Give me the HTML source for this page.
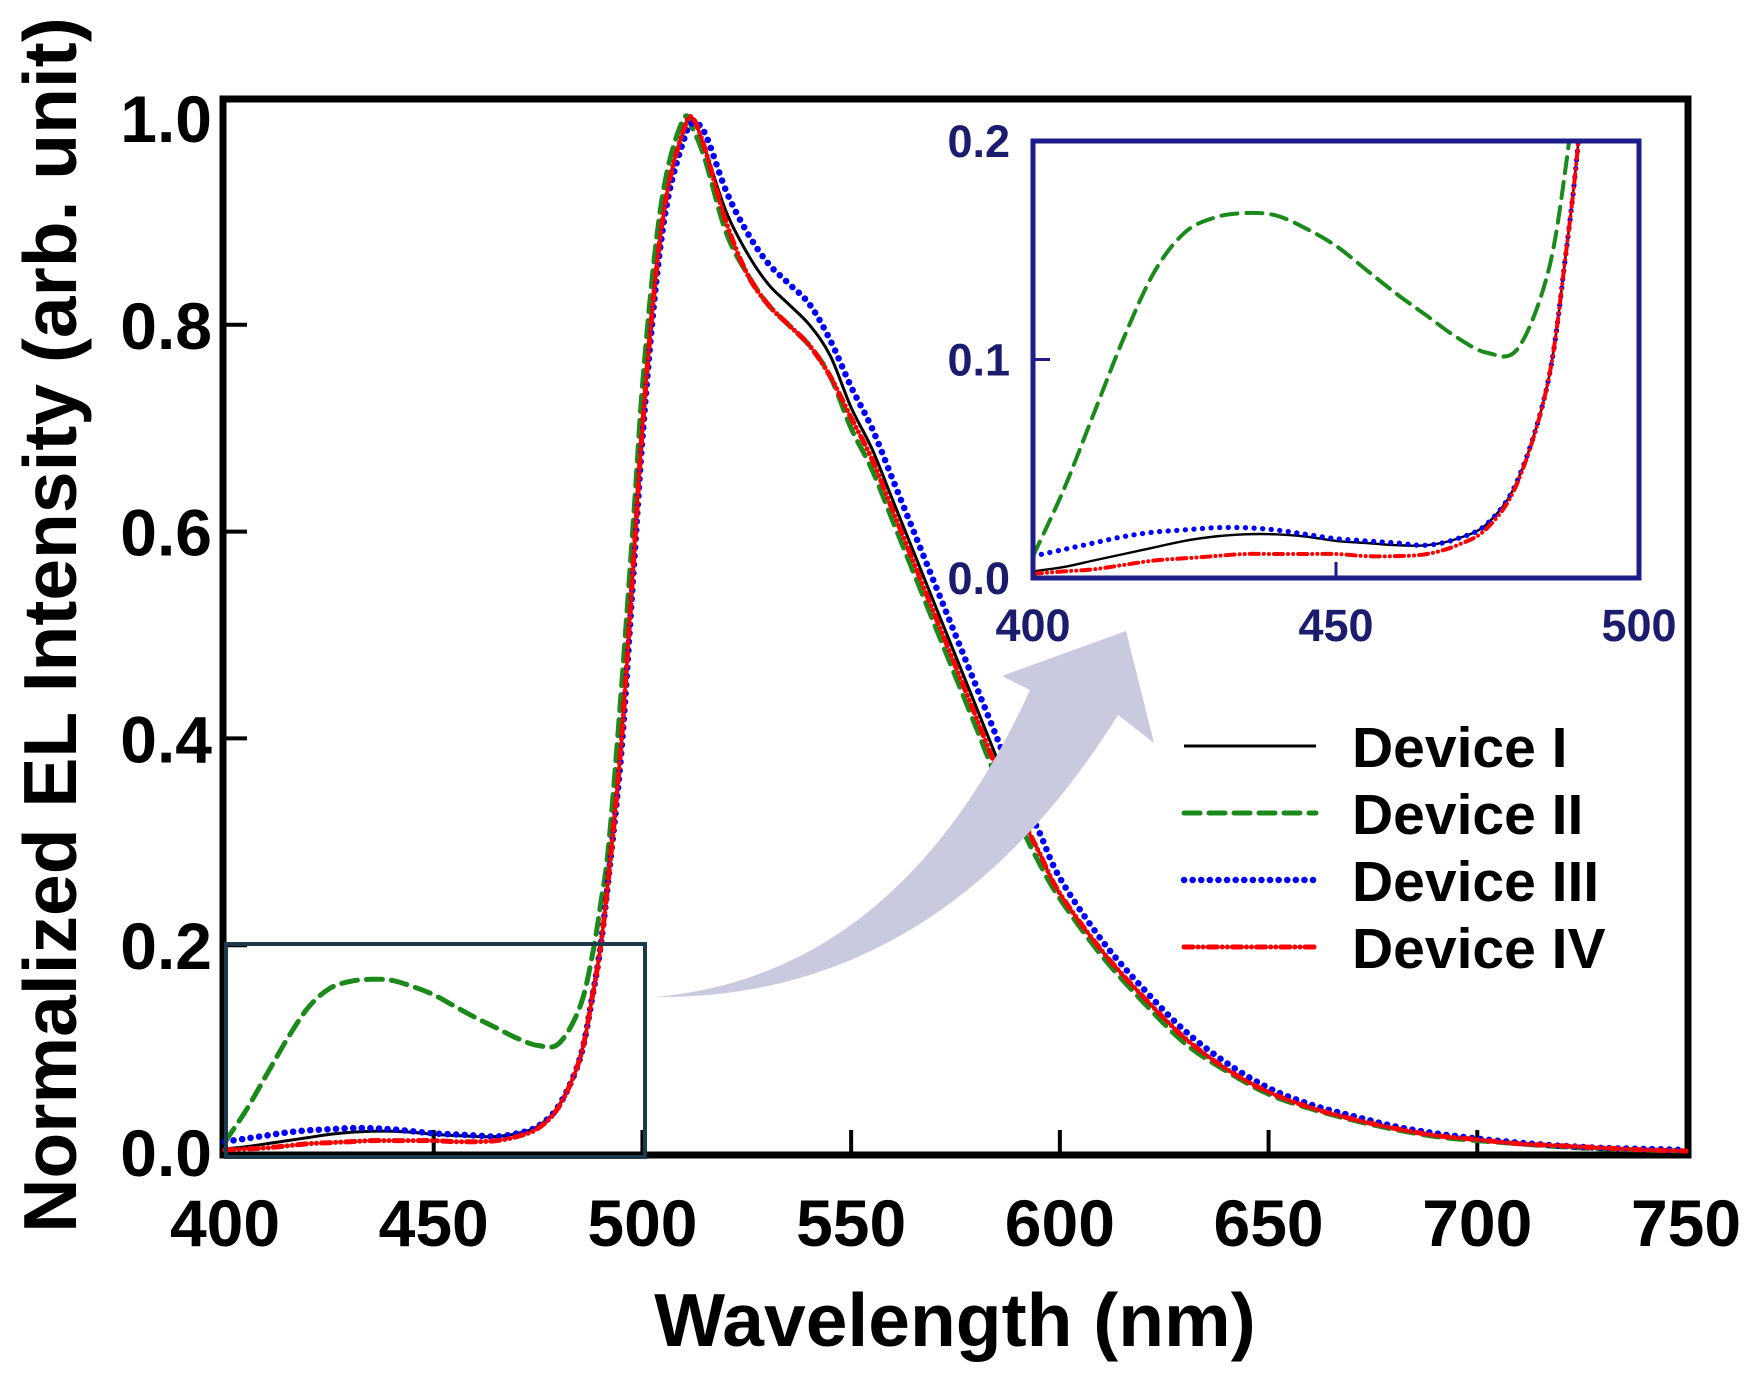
<!DOCTYPE html>
<html><head><meta charset="utf-8"><style>
html,body{margin:0;padding:0;background:#fff;}
svg{display:block;font-family:"Liberation Sans",Arial,sans-serif;font-weight:bold;}
</style></head><body>
<svg id="chart" width="1757" height="1375" viewBox="0 0 1757 1375">
<g id="main"></g>
<path d="M655,997 Q900,975 1030,690 L1002,676 L1126,631 L1154,743 L1118,715 Q940,1000 655,997 Z" fill="#c9c9e0"/>
<g id="inset"></g>
<g id="legend"></g>
</svg>
<script>
const wavelengths=[400,405,410,415,420,425,430,435,440,445,450,455,460,465,470,475,480,485,488,490,492,495,498,500,503,506,510,512,515,520,525,530,535,540,545,550,555,560,565,570,575,580,585,590,595,600,610,620,630,640,650,660,670,680,690,700,710,720,730,740,750];
const device1=[.003,.005,.008,.011,.014,.017,.019,.02,.02,.019,.017,.016,.015,.015,.018,.025,.045,.09,.15,.2,.27,.4,.58,.7,.84,.93,.99,1.0,.97,.91,.87,.84,.82,.80,.77,.72,.68,.63,.58,.53,.48,.43,.38,.33,.29,.25,.195,.15,.11,.08,.058,.043,.032,.023,.016,.012,.008,.006,.004,.002,.001];
const device2=[.01,.04,.075,.11,.14,.158,.165,.167,.166,.16,.152,.141,.13,.12,.11,.103,.105,.14,.19,.24,.3,.45,.62,.74,.87,.95,1.0,.99,.96,.89,.85,.82,.80,.78,.75,.70,.66,.61,.56,.51,.46,.41,.36,.32,.28,.245,.19,.145,.105,.078,.056,.042,.031,.022,.015,.011,.008,.005,.003,.002,.001];
const device3=[.01,.013,.016,.019,.021,.022,.023,.023,.022,.02,.018,.017,.016,.015,.018,.025,.045,.09,.15,.2,.27,.39,.57,.69,.83,.92,.98,.995,.985,.93,.89,.86,.84,.82,.785,.74,.70,.65,.60,.55,.50,.45,.40,.35,.31,.265,.205,.158,.117,.086,.062,.046,.035,.025,.018,.013,.009,.006,.004,.003,.002];
const device4=[.002,.003,.004,.006,.008,.009,.01,.011,.011,.011,.011,.01,.01,.011,.015,.023,.044,.09,.15,.2,.27,.4,.58,.7,.84,.93,.99,1.0,.97,.90,.85,.82,.80,.78,.75,.71,.67,.62,.57,.52,.47,.42,.37,.33,.29,.25,.195,.15,.11,.08,.058,.043,.032,.023,.016,.012,.008,.006,.004,.002,.001];
const xTicks=["400","450","500","550","600","650","700","750"];
const yTicks=["0.0","0.2","0.4","0.6","0.8","1.0"];
const insetXTicks=["400","450","500"];
const insetYTicks=["0.0","0.1","0.2"];
const seriesNames=["Device I","Device II","Device III","Device IV"];

const NS="http://www.w3.org/2000/svg";
function mk(tag,attrs,parent){const e=document.createElementNS(NS,tag);for(const k in attrs)e.setAttribute(k,attrs[k]);parent.appendChild(e);return e;}
const styles=[
 {stroke:"#000",dash:"",w:3,cap:"butt"},
 {stroke:"#1a8a1a",dash:"16,9",w:5,cap:"round"},
 {stroke:"#0000ff",dash:"0.1,8.5",w:6.5,cap:"round"},
 {stroke:"#ff0000",dash:"9,5,0.1,5,0.1,5",w:5,cap:"round"}];
const allSeries=[device1,device2,device3,device4];
const drawOrder=[0,1,2,3];

const X=w=>225+(w-400)*(1461/350);
const Y=v=>1152-v*1034;
const IX=w=>1033+(w-400)*6.06;
const IY=v=>578-v*2185;

function pathD(xs,ys,fx,fy){
  const p=xs.map((x,i)=>[fx(x),fy(ys[i])]);
  let d="M"+p[0][0].toFixed(1)+","+p[0][1].toFixed(1);
  for(let i=0;i<p.length-1;i++){
    const p0=p[Math.max(0,i-1)],p1=p[i],p2=p[i+1],p3=p[Math.min(p.length-1,i+2)];
    const c1=[p1[0]+(p2[0]-p0[0])/6,p1[1]+(p2[1]-p0[1])/6];
    const c2=[p2[0]-(p3[0]-p1[0])/6,p2[1]-(p3[1]-p1[1])/6];
    d+="C"+c1[0].toFixed(1)+","+c1[1].toFixed(1)+" "+c2[0].toFixed(1)+","+c2[1].toFixed(1)+" "+p2[0].toFixed(1)+","+p2[1].toFixed(1);
  }
  return d;
}

const main=document.getElementById("main");
const frame=mk("rect",{x:223,y:99,width:1465,height:1056,fill:"none",stroke:"#000","stroke-width":7},main);


xTicks.forEach(t=>{
  const w=+t,x=X(w);
  if(w>400&&w<750){const tk=mk("line",{x1:x,x2:x,y1:1152,y2:1130,stroke:"#000","stroke-width":4},main);
  
  }
  const tx=mk("text",{x:x,y:1246,"text-anchor":"middle","font-size":66},main);tx.textContent=t;
  
  
});
yTicks.forEach(t=>{
  const v=+t,y=Y(v);
  if(v>0&&v<1){const tk=mk("line",{x1:225,x2:247,y1:y,y2:y,stroke:"#000","stroke-width":4},main);
  
  }
  const tx=mk("text",{x:212,y:y+24,"text-anchor":"end","font-size":66},main);tx.textContent=t;
  
  
});
const xt=mk("text",{x:955,y:1346,"text-anchor":"middle","font-size":75},main);xt.textContent="Wavelength (nm)";


const yt=mk("text",{x:0,y:0,"text-anchor":"middle","font-size":75,transform:"translate(76,625) rotate(-90)"},main);yt.textContent="Normalized EL Intensity (arb. unit)";


drawOrder.forEach(i=>{const s=styles[i];
  const p=mk("path",{d:pathD(wavelengths,allSeries[i],X,Y),fill:"none",stroke:s.stroke,"stroke-width":s.w,"stroke-dasharray":s.dash,"stroke-linecap":s.cap,"stroke-linejoin":"round"},main);
  
  
});
const hb=mk("rect",{x:226,y:944,width:419,height:213,fill:"none",stroke:"#1c3a4c","stroke-width":4},main);



const inset=document.getElementById("inset");
mk("rect",{x:1033,y:141,width:606,height:437,fill:"#fff"},inset);
const defs=mk("defs",{},inset);
const cp=mk("clipPath",{id:"ic"},defs);mk("rect",{x:1033,y:141,width:606,height:437},cp);
const ig=mk("g",{"clip-path":"url(#ic)"},inset);
drawOrder.forEach(i=>{const s=styles[i];
  const p=mk("path",{d:pathD(wavelengths,allSeries[i],IX,IY),fill:"none",stroke:s.stroke,"stroke-width":s.w*0.8,"stroke-dasharray":s.dash,"stroke-linecap":s.cap,"stroke-linejoin":"round"},ig);
  
  
});
const ifr=mk("rect",{x:1033,y:141,width:606,height:437,fill:"none",stroke:"#1c1c8a","stroke-width":5},inset);


insetXTicks.forEach(t=>{const w=+t,x=IX(w);
  if(w>400&&w<500){const tk=mk("line",{x1:x,x2:x,y1:578,y2:562,stroke:"#1c1c8a","stroke-width":3},inset);
  
  }
  const tx=mk("text",{x:x,y:641,"text-anchor":"middle","font-size":45,fill:"#1c1c6e"},inset);tx.textContent=t;
  
  
});
insetYTicks.forEach(t=>{const v=+t,y=IY(v);
  if(v>0&&v<0.2){const tk=mk("line",{x1:1033,x2:1050,y1:y,y2:y,stroke:"#1c1c8a","stroke-width":3},inset);
  
  }
  const tx=mk("text",{x:1010,y:y+16,"text-anchor":"end","font-size":45,fill:"#1c1c6e"},inset);tx.textContent=t;
  
  
});

const lg=document.getElementById("legend");
seriesNames.forEach((n,i)=>{const s=styles[i],y=746+i*67;
  const g=mk("g",{},lg);
  
  
  mk("line",{x1:1184,x2:1316,y1:y,y2:y,stroke:s.stroke,"stroke-width":s.w,"stroke-dasharray":s.dash,"stroke-linecap":s.cap},g);
  const t=mk("text",{x:1352,y:y+21,"font-size":57},g);t.textContent=n;
});
</script>
</body></html>
